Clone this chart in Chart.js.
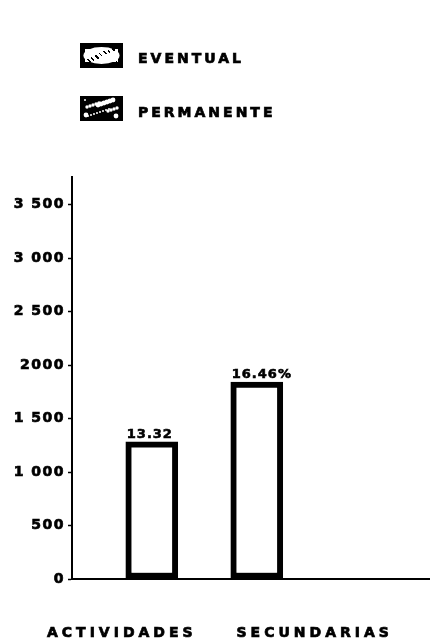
<!DOCTYPE html>
<html>
<head>
<meta charset="utf-8">
<script src="https://cdn.jsdelivr.net/npm/chart.js@4/dist/chart.umd.min.js"></script>
<style>
  html, body { margin: 0; padding: 0; background: #fff; }
  #wrap { width: 430px; height: 640px; position: relative; }
</style>
</head>
<body>
<div id="wrap"><canvas id="c"></canvas></div>
<script>
// Series: one bar per type of employment
const categories = ['EVENTUAL', 'PERMANENTE'];
const values = [1282, 1843];
const valueLabels = ['13.32', '16.46%'];

// Vertical axis ticks and their printed labels
const tickValues = [0, 500, 1000, 1500, 2000, 2500, 3000, 3500];
const tickLabels = ['0', '500', '1 000', '1 500', '2000', '2 500', '3 000', '3 500'];

const axisTitle = 'ACTIVIDADES SECUNDARIAS';

const FONT = "'DejaVu Sans', 'Liberation Sans', sans-serif";

// Textured legend swatches (dark mottled fill inside a black frame)
function makeSwatch(kind, w, h) {
  const cv = document.createElement('canvas');
  cv.width = w; cv.height = h;
  const g = cv.getContext('2d');
  g.fillStyle = '#000';
  g.fillRect(0, 0, w, h);
  g.fillStyle = '#fff';
  if (kind === 0) {
    // light cloud with dark flecks
    g.beginPath();
    g.ellipse(w * 0.5, h * 0.5, w * 0.42, h * 0.34, 0, 0, Math.PI * 2);
    g.fill();
    g.fillRect(5, 6, w - 10, h - 12);
    g.fillStyle = '#000';
    for (let i = 0; i < 22; i++) {
      const x = 5 + ((i * 37) % (w - 10));
      const y = 5 + ((i * 13) % (h - 10));
      g.fillRect(x, y, 1 + (i % 2), 1 + ((i >> 1) % 2));
    }
  } else {
    // dark field with white blotches
    for (let i = 0; i < 26; i++) {
      const x = 5 + ((i * 23) % (w - 10));
      const y = 4 + ((i * 11) % (h - 8));
      g.beginPath();
      g.arc(x, y, 1 + (i % 3) * 0.7, 0, Math.PI * 2);
      g.fill();
    }
  }
  return cv;
}

// Heavy lettering: fill plus a thin outline in the same ink
function inkText(ctx, text, x, y) {
  ctx.fillText(text, x, y);
  ctx.strokeText(text, x, y);
}

const printed = {
  id: 'printed',
  beforeDraw(chart) {
    // slightly spaced lettering for the axis numbers
    chart.ctx.letterSpacing = '1.5px';
  },
  afterDatasetsDraw(chart) {
    const ctx = chart.ctx;
    ctx.save();
    ctx.fillStyle = '#000';
    ctx.strokeStyle = '#000';
    ctx.lineWidth = 0.6;
    ctx.font = 'bold 13px ' + FONT;
    ctx.letterSpacing = '1px';
    ctx.textAlign = 'left';
    ctx.textBaseline = 'alphabetic';
    chart.data.datasets.forEach((ds, i) => {
      const el = chart.getDatasetMeta(i).data[0];
      if (!el) return;
      inkText(ctx, valueLabels[i], el.x - el.width / 2 + 1, el.y - 4);
    });
    ctx.restore();
  },
  afterDraw(chart) {
    const ctx = chart.ctx;
    ctx.save();
    ctx.fillStyle = '#000';
    ctx.strokeStyle = '#000';
    ctx.lineWidth = 0.7;
    // legend
    chart.data.datasets.forEach((ds, i) => {
      const bx = 80, by = 43 + i * 53, bw = 43, bh = 25;
      ctx.drawImage(makeSwatch(i, bw, bh), bx, by);
      ctx.font = 'bold 14px ' + FONT;
      ctx.letterSpacing = '3px';
      ctx.textAlign = 'left';
      ctx.textBaseline = 'alphabetic';
      inkText(ctx, ds.label, 138, 63 + i * 54);
    });
    // category title under the axis
    ctx.font = 'bold 14px ' + FONT;
    ctx.letterSpacing = '4px';
    ctx.wordSpacing = '31px';
    ctx.textAlign = 'left';
    inkText(ctx, axisTitle, 47, 637);
    ctx.restore();
  }
};

new Chart(document.getElementById('c'), {
  type: 'bar',
  data: {
    datasets: categories.map((name, i) => ({
      label: name,
      data: [{ x: i + 1, y: values[i] }],
      backgroundColor: '#fff',
      borderColor: '#000',
      borderWidth: 6,
      borderSkipped: false,
      barThickness: 52,
      grouped: false
    }))
  },
  options: {
    responsive: true,
    maintainAspectRatio: false,
    animation: false,
    devicePixelRatio: 1,
    layout: { padding: { top: 177, right: 0, bottom: 61, left: 0 } },
    plugins: {
      legend: { display: false },
      tooltip: { enabled: false },
      title: { display: false }
    },
    scales: {
      x: {
        type: 'linear',
        offset: false,
        min: 0.24,
        max: 3.65,
        afterFit: s => { s.height = 0; },
        ticks: { display: false },
        grid: { display: false, offset: false },
        border: { display: true, color: '#000', width: 2 }
      },
      y: {
        min: 0,
        max: 3760,
        afterBuildTicks: s => { s.ticks = tickValues.map(v => ({ value: v })); },
        afterFit: s => { s.width = 72; },
        ticks: {
          autoSkip: false,
          color: '#000',
          padding: 3,
          textStrokeColor: '#000',
          textStrokeWidth: 0.7,
          font: { family: FONT, size: 14, weight: 'bold' },
          callback: v => tickLabels[tickValues.indexOf(v)]
        },
        grid: {
          display: true,
          drawOnChartArea: false,
          drawTicks: true,
          tickLength: 4,
          tickColor: '#000',
          tickWidth: 1.5
        },
        border: { display: true, color: '#000', width: 2 }
      }
    }
  },
  plugins: [printed]
});
</script>
</body>
</html>
